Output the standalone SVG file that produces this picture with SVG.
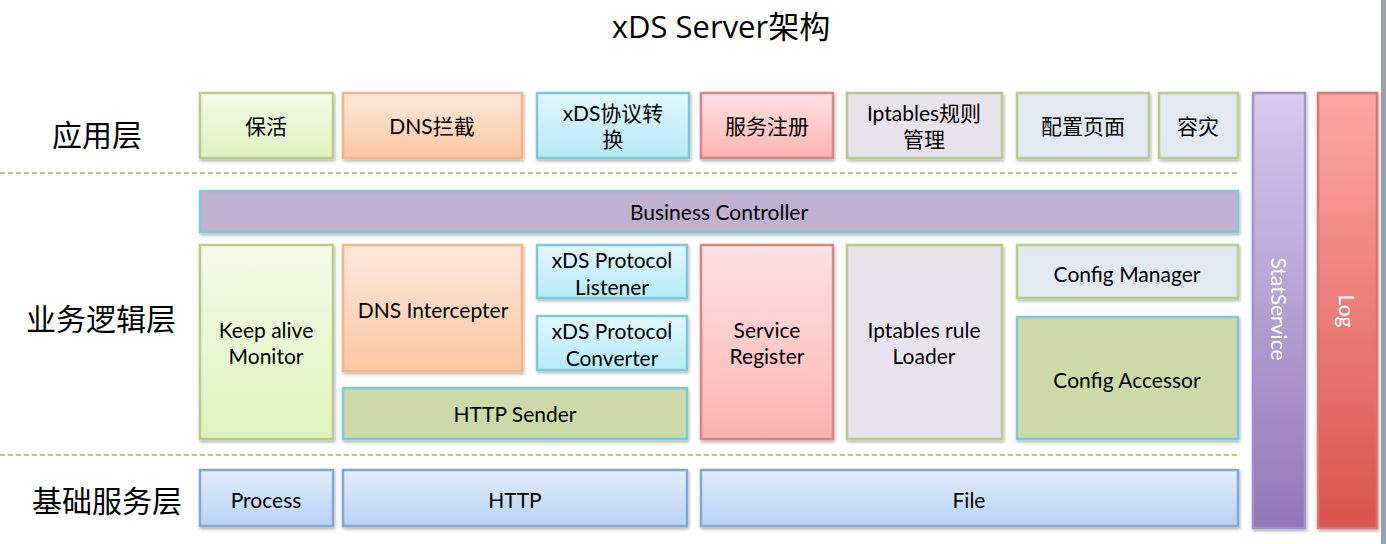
<svg xmlns="http://www.w3.org/2000/svg" width="1386" height="544" viewBox="0 0 1386 544">
<style>
.t{font-family:Lato,"Noto Sans CJK SC",sans-serif;font-size:21px;fill:#000;text-anchor:middle;dominant-baseline:central}
.lay{font-family:"Noto Sans CJK SC",sans-serif;font-size:30px;fill:#000;text-anchor:middle;dominant-baseline:central}
.ttl{font-family:"Open Sans","Noto Sans CJK SC",sans-serif;font-size:31px;fill:#000;text-anchor:middle;dominant-baseline:central}
.w{font-family:Lato,sans-serif;font-size:21px;fill:#fff;text-anchor:middle;dominant-baseline:central}
.b{stroke-width:2.5;filter:url(#sh)}
.green{fill:url(#gGreen);stroke:#b7cc8c}
.orange{fill:url(#gOrange);stroke:#f5b488}
.blue{fill:url(#gBlue);stroke:#7fc7db}
.pink{fill:url(#gPink);stroke:#d98585}
.lav{fill:#e8e4ee;stroke:#b7cc8c}
.gray{fill:#e3e9f3;stroke:#b7cc8c}
.olive{fill:#cdd9a9;stroke:#7fc7db}
.base{fill:url(#gBase);stroke:#7fa8d6}
.dash{stroke:#b7cc8c;stroke-width:2;stroke-dasharray:5 3;fill:none}
</style>
<defs>
<filter id="sh" x="-10%" y="-10%" width="130%" height="130%">
<feDropShadow dx="1" dy="2" stdDeviation="1.5" flood-color="#000" flood-opacity="0.3"/>
</filter>
<linearGradient id="gGreen" x1="0" y1="0" x2="0" y2="1"><stop offset="0" stop-color="#f4faea"/><stop offset="1" stop-color="#def3bd"/></linearGradient>
<linearGradient id="gOrange" x1="0" y1="0" x2="0" y2="1"><stop offset="0" stop-color="#fde9dc"/><stop offset="1" stop-color="#fbc7a1"/></linearGradient>
<linearGradient id="gBlue" x1="0" y1="0" x2="0" y2="1"><stop offset="0" stop-color="#e2f7fd"/><stop offset="1" stop-color="#b5eaf9"/></linearGradient>
<linearGradient id="gPink" x1="0" y1="0" x2="0" y2="1"><stop offset="0" stop-color="#ffe3e3"/><stop offset="1" stop-color="#fcb3b1"/></linearGradient>
<linearGradient id="gBase" x1="0" y1="0" x2="0" y2="1"><stop offset="0" stop-color="#e4edfb"/><stop offset="1" stop-color="#b8d2f6"/></linearGradient>
<linearGradient id="gStat" x1="0" y1="0" x2="0" y2="1"><stop offset="0" stop-color="#d8c9ee"/><stop offset="1" stop-color="#9177b8"/></linearGradient>
<linearGradient id="gLog" x1="0" y1="0" x2="0" y2="1"><stop offset="0" stop-color="#fda7a4"/><stop offset="1" stop-color="#d9544d"/></linearGradient>
</defs>
<rect x="0" y="0" width="1386" height="544" fill="#fff"/>
<rect x="1381" y="0" width="5" height="544" fill="#9aa1aa"/>
<text class="ttl" x="721" y="26">xDS Server架构</text>
<g id="layer-labels">
<text class="lay" x="97" y="133">应用层</text>
<text class="lay" x="101" y="317">业务逻辑层</text>
<text class="lay" x="107" y="499">基础服务层</text>
</g>
<g id="connectors">
<line class="dash" x1="0" y1="173" x2="1238" y2="173"/>
<line class="dash" x1="0" y1="455" x2="1238" y2="455"/>
</g>
<g id="n-baohuo"><rect class="b green" x="200" y="93" width="133" height="65"/><text class="t" x="266" y="125">保活</text></g>
<g id="n-dnslj"><rect class="b orange" x="343" y="93" width="179" height="65"/><text class="t" x="432" y="125">DNS拦截</text></g>
<g id="n-xdszh"><rect class="b blue" x="537" y="93" width="152" height="65"/><text class="t" x="613" y="112">xDS协议转</text><text class="t" x="613" y="138">换</text></g>
<g id="n-fwzc"><rect class="b pink" x="701" y="93" width="132" height="65"/><text class="t" x="767" y="125">服务注册</text></g>
<g id="n-iptgz"><rect class="b lav" x="847" y="93" width="155" height="65"/><text class="t" x="924" y="112">Iptables规则</text><text class="t" x="924" y="138">管理</text></g>
<g id="n-pzym"><rect class="b gray" x="1017" y="93" width="132" height="65"/><text class="t" x="1083" y="125">配置页面</text></g>
<g id="n-rz"><rect class="b gray" x="1159" y="93" width="79" height="65"/><text class="t" x="1198" y="125">容灾</text></g>
<g id="n-bc"><rect class="b" fill="#bfb1cf" stroke="#7fc7db" x="200" y="191" width="1038" height="41"/><text class="t" x="719" y="211">Business Controller</text></g>
<g id="n-kam"><rect class="b green" x="200" y="245" width="133" height="194"/><text class="t" x="266" y="329">Keep alive</text><text class="t" x="266" y="355">Monitor</text></g>
<g id="n-dnsi"><rect class="b orange" x="343" y="245" width="179" height="126"/><text class="t" x="433" y="309">DNS Intercepter</text></g>
<g id="n-xdsl"><rect class="b blue" x="537" y="245" width="150" height="53"/><text class="t" x="612" y="259">xDS Protocol</text><text class="t" x="612" y="286">Listener</text></g>
<g id="n-xdsc"><rect class="b blue" x="537" y="316" width="150" height="54"/><text class="t" x="612" y="330">xDS Protocol</text><text class="t" x="612" y="357">Converter</text></g>
<g id="n-https"><rect class="b olive" x="343" y="388" width="344" height="51"/><text class="t" x="515" y="413">HTTP Sender</text></g>
<g id="n-sr"><rect class="b pink" x="701" y="245" width="132" height="194"/><text class="t" x="767" y="329">Service</text><text class="t" x="767" y="355">Register</text></g>
<g id="n-irl"><rect class="b lav" x="847" y="245" width="155" height="194"/><text class="t" x="924" y="329">Iptables rule</text><text class="t" x="924" y="355">Loader</text></g>
<g id="n-cm"><rect class="b gray" x="1017" y="245" width="221" height="53"/><text class="t" x="1127" y="273">Config Manager</text></g>
<g id="n-ca"><rect class="b olive" x="1017" y="317" width="221" height="122"/><text class="t" x="1127" y="379">Config Accessor</text></g>
<g id="n-proc"><rect class="b base" x="200" y="470" width="133" height="56"/><text class="t" x="266" y="499">Process</text></g>
<g id="n-http"><rect class="b base" x="343" y="470" width="344" height="56"/><text class="t" x="515" y="499">HTTP</text></g>
<g id="n-file"><rect class="b base" x="701" y="470" width="537" height="56"/><text class="t" x="969" y="499">File</text></g>
<g id="n-stat"><rect class="b" fill="url(#gStat)" stroke="#a690c9" x="1253" y="93" width="52" height="435"/><text class="w" transform="translate(1279,309) rotate(90)">StatService</text></g>
<g id="n-log"><rect class="b" fill="url(#gLog)" stroke="#d77a76" x="1318" y="93" width="59" height="435"/><text class="w" transform="translate(1347,311) rotate(90)">Log</text></g>
</svg>
